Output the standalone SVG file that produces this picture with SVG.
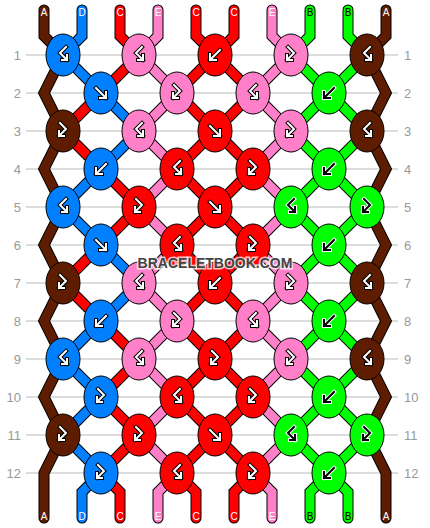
<svg xmlns="http://www.w3.org/2000/svg" xmlns:xlink="http://www.w3.org/1999/xlink" width="430" height="528" viewBox="0 0 430 528">
<style>
.grid{stroke:#bbb;stroke-width:1}
.rl{font-family:"Liberation Sans",Arial,sans-serif;font-size:13px;fill:#999}
.sl{font-family:"Liberation Sans",Arial,sans-serif;font-size:10px;text-anchor:middle}
.ol{fill:none;stroke:#000;stroke-width:11;stroke-linejoin:miter;stroke-linecap:round}
.rib{fill:none;stroke-width:9;stroke-linejoin:miter;stroke-linecap:round}
.cA{stroke:#5e1d00}.cD{stroke:#0080ff}.cC{stroke:#ff0000}.cE{stroke:#ff80c8}.cB{stroke:#00ff00}
.kn{stroke:#000;stroke-width:1}
.fA{fill:#5e1d00}.fD{fill:#0080ff}.fC{fill:#ff0000}.fE{fill:#ff80c8}.fB{fill:#00ff00}
.ao{fill:none;stroke:#000;stroke-width:4;stroke-linecap:square;stroke-linejoin:miter}
.ai{fill:none;stroke:#fff;stroke-width:2;stroke-linecap:square;stroke-linejoin:miter}
.wo{fill:none;stroke:#fff;stroke-width:4;stroke-linecap:square;stroke-linejoin:miter}
.bi{fill:none;stroke:#000;stroke-width:2;stroke-linecap:square;stroke-linejoin:miter}
.wm{font-family:"Liberation Sans",Arial,sans-serif;font-weight:bold;font-size:14px;text-anchor:middle;fill:#444;stroke:#fff;stroke-opacity:0.75;stroke-width:3;paint-order:stroke}
</style>
<defs>
<path id="F" d="M-5,-5 L5,5 M5,-1 L5,5 L-1,5"/>
<path id="B" d="M5,-5 L-5,5 M-5,-1 L-5,5 L1,5"/>
<path id="BF" d="M3,-8 L-3,-2 L4,5 M4,0 L4,5 L-1,5"/>
<path id="FB" d="M-3,-8 L3,-2 L-4,5 M-4,0 L-4,5 L1,5"/>
<polyline id="p1" points="44,10 44,36 63,55 44,93 63,131 44,169 63,207 44,245 63,283 44,321 63,359 44,397 63,435 44,473 44,518"/>
<polyline id="p10" points="386,10 386,36 367,55 386,93 367,131 386,169 367,207 386,245 367,283 386,321 367,359 386,397 367,435 386,473 386,518"/>
<polyline id="p4" points="158,10 158,36 139,55 177,93 139,131 177,169 139,207 177,245 139,283 177,321 139,359 177,397 139,435 177,473 158,492 158,518"/>
<polyline id="p5" points="196,10 196,36 215,55 177,93 215,131 177,169 215,207 177,245 215,283 177,321 215,359 177,397 215,435 177,473 196,492 196,518"/>
<polyline id="p6" points="234,10 234,36 215,55 253,93 215,131 253,169 215,207 253,245 215,283 253,321 215,359 253,397 215,435 253,473 234,492 234,518"/>
<polyline id="p7" points="272,10 272,36 291,55 253,93 291,131 253,169 291,207 253,245 291,283 253,321 291,359 253,397 291,435 253,473 272,492 272,518"/>
<polyline id="p8" points="310,10 310,36 291,55 329,93 291,131 329,169 291,207 329,245 291,283 329,321 291,359 329,397 291,435 329,473 310,492 310,518"/>
<polyline id="p9" points="348,10 348,36 367,55 329,93 367,131 329,169 367,207 329,245 367,283 329,321 367,359 329,397 367,435 329,473 348,492 348,518"/>
<polyline id="p2a" points="82,10 82,36 63,55 101,93"/>
<polyline id="p2b" points="101,93 63,131 101,169"/>
<polyline id="p2c" points="101,169 63,207 101,245"/>
<polyline id="p2d" points="101,245 63,283 101,321"/>
<polyline id="p2e" points="101,321 63,359 101,397 63,435 101,473 82,492 82,518"/>
<polyline id="p3a" points="120,10 120,36 139,55 101,93"/>
<polyline id="p3b" points="101,93 139,131 101,169"/>
<polyline id="p3c" points="101,169 139,207 101,245"/>
<polyline id="p3d" points="101,245 139,283 101,321"/>
<polyline id="p3e" points="101,321 139,359 101,397 139,435 101,473 120,492 120,518"/>
</defs>
<rect width="430" height="528" fill="#fff"/>
<g id="grid">
<line class="grid" x1="26" y1="55" x2="398" y2="55"/>
<line class="grid" x1="26" y1="93" x2="398" y2="93"/>
<line class="grid" x1="26" y1="131" x2="398" y2="131"/>
<line class="grid" x1="26" y1="169" x2="398" y2="169"/>
<line class="grid" x1="26" y1="207" x2="398" y2="207"/>
<line class="grid" x1="26" y1="245" x2="398" y2="245"/>
<line class="grid" x1="26" y1="283" x2="398" y2="283"/>
<line class="grid" x1="26" y1="321" x2="398" y2="321"/>
<line class="grid" x1="26" y1="359" x2="398" y2="359"/>
<line class="grid" x1="26" y1="397" x2="398" y2="397"/>
<line class="grid" x1="26" y1="435" x2="398" y2="435"/>
<line class="grid" x1="26" y1="473" x2="398" y2="473"/>
</g>
<g id="row-labels">
<text class="rl" x="21" y="59.5" text-anchor="end">1</text><text class="rl" x="404" y="59.5">1</text>
<text class="rl" x="21" y="97.5" text-anchor="end">2</text><text class="rl" x="404" y="97.5">2</text>
<text class="rl" x="21" y="135.5" text-anchor="end">3</text><text class="rl" x="404" y="135.5">3</text>
<text class="rl" x="21" y="173.5" text-anchor="end">4</text><text class="rl" x="404" y="173.5">4</text>
<text class="rl" x="21" y="211.5" text-anchor="end">5</text><text class="rl" x="404" y="211.5">5</text>
<text class="rl" x="21" y="249.5" text-anchor="end">6</text><text class="rl" x="404" y="249.5">6</text>
<text class="rl" x="21" y="287.5" text-anchor="end">7</text><text class="rl" x="404" y="287.5">7</text>
<text class="rl" x="21" y="325.5" text-anchor="end">8</text><text class="rl" x="404" y="325.5">8</text>
<text class="rl" x="21" y="363.5" text-anchor="end">9</text><text class="rl" x="404" y="363.5">9</text>
<text class="rl" x="21" y="401.5" text-anchor="end">10</text><text class="rl" x="404" y="401.5">10</text>
<text class="rl" x="21" y="439.5" text-anchor="end">11</text><text class="rl" x="404" y="439.5">11</text>
<text class="rl" x="21" y="477.5" text-anchor="end">12</text><text class="rl" x="404" y="477.5">12</text>
</g>
<g id="connectors">
<use href="#p1" class="ol"/><use href="#p10" class="ol"/><use href="#p4" class="ol"/><use href="#p5" class="ol"/><use href="#p6" class="ol"/><use href="#p7" class="ol"/><use href="#p8" class="ol"/><use href="#p9" class="ol"/>
<use href="#p2a" class="ol"/><use href="#p2b" class="ol"/><use href="#p2c" class="ol"/><use href="#p2d" class="ol"/><use href="#p2e" class="ol"/>
<use href="#p3a" class="ol"/><use href="#p3b" class="ol"/><use href="#p3c" class="ol"/><use href="#p3d" class="ol"/><use href="#p3e" class="ol"/>
<use href="#p1" class="rib cA"/><use href="#p10" class="rib cA"/><use href="#p4" class="rib cE"/><use href="#p5" class="rib cC"/><use href="#p6" class="rib cC"/><use href="#p7" class="rib cE"/><use href="#p8" class="rib cB"/><use href="#p9" class="rib cB"/>
<use href="#p2a" class="rib cD"/><use href="#p2b" class="rib cC"/><use href="#p2c" class="rib cD"/><use href="#p2d" class="rib cC"/><use href="#p2e" class="rib cD"/>
<use href="#p3a" class="rib cC"/><use href="#p3b" class="rib cD"/><use href="#p3c" class="rib cC"/><use href="#p3d" class="rib cD"/><use href="#p3e" class="rib cC"/>
</g>
<g id="string-labels">
<text class="sl" x="44" y="16" fill="#fff">A</text><text class="sl" x="82" y="16" fill="#fff">D</text><text class="sl" x="120" y="16" fill="#fff">C</text><text class="sl" x="158" y="16" fill="#fff">E</text><text class="sl" x="196" y="16" fill="#fff">C</text><text class="sl" x="234" y="16" fill="#fff">C</text><text class="sl" x="272" y="16" fill="#fff">E</text><text class="sl" x="310" y="16" fill="#000">B</text><text class="sl" x="348" y="16" fill="#000">B</text><text class="sl" x="386" y="16" fill="#fff">A</text>
<text class="sl" x="44" y="520" fill="#fff">A</text><text class="sl" x="82" y="520" fill="#fff">D</text><text class="sl" x="120" y="520" fill="#fff">C</text><text class="sl" x="158" y="520" fill="#fff">E</text><text class="sl" x="196" y="520" fill="#fff">C</text><text class="sl" x="234" y="520" fill="#fff">C</text><text class="sl" x="272" y="520" fill="#fff">E</text><text class="sl" x="310" y="520" fill="#000">B</text><text class="sl" x="348" y="520" fill="#000">B</text><text class="sl" x="386" y="520" fill="#fff">A</text>
</g>
<g id="nodes">
<g id="k1-1" transform="translate(63,55)"><ellipse class="kn fD" rx="17" ry="21"/><use href="#BF" class="ao"/><use href="#BF" class="ai"/></g>
<g id="k1-2" transform="translate(139,55)"><ellipse class="kn fE" rx="17" ry="21"/><use href="#BF" class="ao"/><use href="#BF" class="ai"/></g>
<g id="k1-3" transform="translate(215,55)"><ellipse class="kn fC" rx="17" ry="21"/><use href="#B" class="ao"/><use href="#B" class="ai"/></g>
<g id="k1-4" transform="translate(291,55)"><ellipse class="kn fE" rx="17" ry="21"/><use href="#FB" class="ao"/><use href="#FB" class="ai"/></g>
<g id="k1-5" transform="translate(367,55)"><ellipse class="kn fA" rx="17" ry="21"/><use href="#BF" class="ao"/><use href="#BF" class="ai"/></g>
<g id="k2-1" transform="translate(101,93)"><ellipse class="kn fD" rx="17" ry="21"/><use href="#F" class="ao"/><use href="#F" class="ai"/></g>
<g id="k2-2" transform="translate(177,93)"><ellipse class="kn fE" rx="17" ry="21"/><use href="#FB" class="ao"/><use href="#FB" class="ai"/></g>
<g id="k2-3" transform="translate(253,93)"><ellipse class="kn fE" rx="17" ry="21"/><use href="#BF" class="ao"/><use href="#BF" class="ai"/></g>
<g id="k2-4" transform="translate(329,93)"><ellipse class="kn fB" rx="17" ry="21"/><use href="#B" class="wo"/><use href="#B" class="bi"/></g>
<g id="k3-1" transform="translate(63,131)"><ellipse class="kn fA" rx="17" ry="21"/><use href="#FB" class="ao"/><use href="#FB" class="ai"/></g>
<g id="k3-2" transform="translate(139,131)"><ellipse class="kn fE" rx="17" ry="21"/><use href="#BF" class="ao"/><use href="#BF" class="ai"/></g>
<g id="k3-3" transform="translate(215,131)"><ellipse class="kn fC" rx="17" ry="21"/><use href="#F" class="ao"/><use href="#F" class="ai"/></g>
<g id="k3-4" transform="translate(291,131)"><ellipse class="kn fE" rx="17" ry="21"/><use href="#FB" class="ao"/><use href="#FB" class="ai"/></g>
<g id="k3-5" transform="translate(367,131)"><ellipse class="kn fA" rx="17" ry="21"/><use href="#BF" class="ao"/><use href="#BF" class="ai"/></g>
<g id="k4-1" transform="translate(101,169)"><ellipse class="kn fD" rx="17" ry="21"/><use href="#B" class="ao"/><use href="#B" class="ai"/></g>
<g id="k4-2" transform="translate(177,169)"><ellipse class="kn fC" rx="17" ry="21"/><use href="#BF" class="ao"/><use href="#BF" class="ai"/></g>
<g id="k4-3" transform="translate(253,169)"><ellipse class="kn fC" rx="17" ry="21"/><use href="#FB" class="ao"/><use href="#FB" class="ai"/></g>
<g id="k4-4" transform="translate(329,169)"><ellipse class="kn fB" rx="17" ry="21"/><use href="#B" class="wo"/><use href="#B" class="bi"/></g>
<g id="k5-1" transform="translate(63,207)"><ellipse class="kn fD" rx="17" ry="21"/><use href="#BF" class="ao"/><use href="#BF" class="ai"/></g>
<g id="k5-2" transform="translate(139,207)"><ellipse class="kn fC" rx="17" ry="21"/><use href="#FB" class="ao"/><use href="#FB" class="ai"/></g>
<g id="k5-3" transform="translate(215,207)"><ellipse class="kn fC" rx="17" ry="21"/><use href="#F" class="ao"/><use href="#F" class="ai"/></g>
<g id="k5-4" transform="translate(291,207)"><ellipse class="kn fB" rx="17" ry="21"/><use href="#BF" class="wo"/><use href="#BF" class="bi"/></g>
<g id="k5-5" transform="translate(367,207)"><ellipse class="kn fB" rx="17" ry="21"/><use href="#FB" class="wo"/><use href="#FB" class="bi"/></g>
<g id="k6-1" transform="translate(101,245)"><ellipse class="kn fD" rx="17" ry="21"/><use href="#F" class="ao"/><use href="#F" class="ai"/></g>
<g id="k6-2" transform="translate(177,245)"><ellipse class="kn fC" rx="17" ry="21"/><use href="#BF" class="ao"/><use href="#BF" class="ai"/></g>
<g id="k6-3" transform="translate(253,245)"><ellipse class="kn fC" rx="17" ry="21"/><use href="#FB" class="ao"/><use href="#FB" class="ai"/></g>
<g id="k6-4" transform="translate(329,245)"><ellipse class="kn fB" rx="17" ry="21"/><use href="#B" class="wo"/><use href="#B" class="bi"/></g>
<g id="k7-1" transform="translate(63,283)"><ellipse class="kn fA" rx="17" ry="21"/><use href="#FB" class="ao"/><use href="#FB" class="ai"/></g>
<g id="k7-2" transform="translate(139,283)"><ellipse class="kn fE" rx="17" ry="21"/><use href="#BF" class="ao"/><use href="#BF" class="ai"/></g>
<g id="k7-3" transform="translate(215,283)"><ellipse class="kn fC" rx="17" ry="21"/><use href="#B" class="ao"/><use href="#B" class="ai"/></g>
<g id="k7-4" transform="translate(291,283)"><ellipse class="kn fE" rx="17" ry="21"/><use href="#FB" class="ao"/><use href="#FB" class="ai"/></g>
<g id="k7-5" transform="translate(367,283)"><ellipse class="kn fA" rx="17" ry="21"/><use href="#BF" class="ao"/><use href="#BF" class="ai"/></g>
<g id="k8-1" transform="translate(101,321)"><ellipse class="kn fD" rx="17" ry="21"/><use href="#B" class="ao"/><use href="#B" class="ai"/></g>
<g id="k8-2" transform="translate(177,321)"><ellipse class="kn fE" rx="17" ry="21"/><use href="#FB" class="ao"/><use href="#FB" class="ai"/></g>
<g id="k8-3" transform="translate(253,321)"><ellipse class="kn fE" rx="17" ry="21"/><use href="#BF" class="ao"/><use href="#BF" class="ai"/></g>
<g id="k8-4" transform="translate(329,321)"><ellipse class="kn fB" rx="17" ry="21"/><use href="#B" class="wo"/><use href="#B" class="bi"/></g>
<g id="k9-1" transform="translate(63,359)"><ellipse class="kn fD" rx="17" ry="21"/><use href="#BF" class="ao"/><use href="#BF" class="ai"/></g>
<g id="k9-2" transform="translate(139,359)"><ellipse class="kn fE" rx="17" ry="21"/><use href="#BF" class="ao"/><use href="#BF" class="ai"/></g>
<g id="k9-3" transform="translate(215,359)"><ellipse class="kn fC" rx="17" ry="21"/><use href="#FB" class="ao"/><use href="#FB" class="ai"/></g>
<g id="k9-4" transform="translate(291,359)"><ellipse class="kn fE" rx="17" ry="21"/><use href="#FB" class="ao"/><use href="#FB" class="ai"/></g>
<g id="k9-5" transform="translate(367,359)"><ellipse class="kn fA" rx="17" ry="21"/><use href="#BF" class="ao"/><use href="#BF" class="ai"/></g>
<g id="k10-1" transform="translate(101,397)"><ellipse class="kn fD" rx="17" ry="21"/><use href="#FB" class="ao"/><use href="#FB" class="ai"/></g>
<g id="k10-2" transform="translate(177,397)"><ellipse class="kn fC" rx="17" ry="21"/><use href="#BF" class="ao"/><use href="#BF" class="ai"/></g>
<g id="k10-3" transform="translate(253,397)"><ellipse class="kn fC" rx="17" ry="21"/><use href="#FB" class="ao"/><use href="#FB" class="ai"/></g>
<g id="k10-4" transform="translate(329,397)"><ellipse class="kn fB" rx="17" ry="21"/><use href="#B" class="wo"/><use href="#B" class="bi"/></g>
<g id="k11-1" transform="translate(63,435)"><ellipse class="kn fA" rx="17" ry="21"/><use href="#FB" class="ao"/><use href="#FB" class="ai"/></g>
<g id="k11-2" transform="translate(139,435)"><ellipse class="kn fC" rx="17" ry="21"/><use href="#FB" class="ao"/><use href="#FB" class="ai"/></g>
<g id="k11-3" transform="translate(215,435)"><ellipse class="kn fC" rx="17" ry="21"/><use href="#F" class="ao"/><use href="#F" class="ai"/></g>
<g id="k11-4" transform="translate(291,435)"><ellipse class="kn fB" rx="17" ry="21"/><use href="#BF" class="wo"/><use href="#BF" class="bi"/></g>
<g id="k11-5" transform="translate(367,435)"><ellipse class="kn fB" rx="17" ry="21"/><use href="#FB" class="wo"/><use href="#FB" class="bi"/></g>
<g id="k12-1" transform="translate(101,473)"><ellipse class="kn fD" rx="17" ry="21"/><use href="#FB" class="ao"/><use href="#FB" class="ai"/></g>
<g id="k12-2" transform="translate(177,473)"><ellipse class="kn fC" rx="17" ry="21"/><use href="#BF" class="ao"/><use href="#BF" class="ai"/></g>
<g id="k12-3" transform="translate(253,473)"><ellipse class="kn fC" rx="17" ry="21"/><use href="#FB" class="ao"/><use href="#FB" class="ai"/></g>
<g id="k12-4" transform="translate(329,473)"><ellipse class="kn fB" rx="17" ry="21"/><use href="#B" class="wo"/><use href="#B" class="bi"/></g>
</g>
<text class="wm" x="215" y="268">BRACELETBOOK.COM</text>
</svg>
